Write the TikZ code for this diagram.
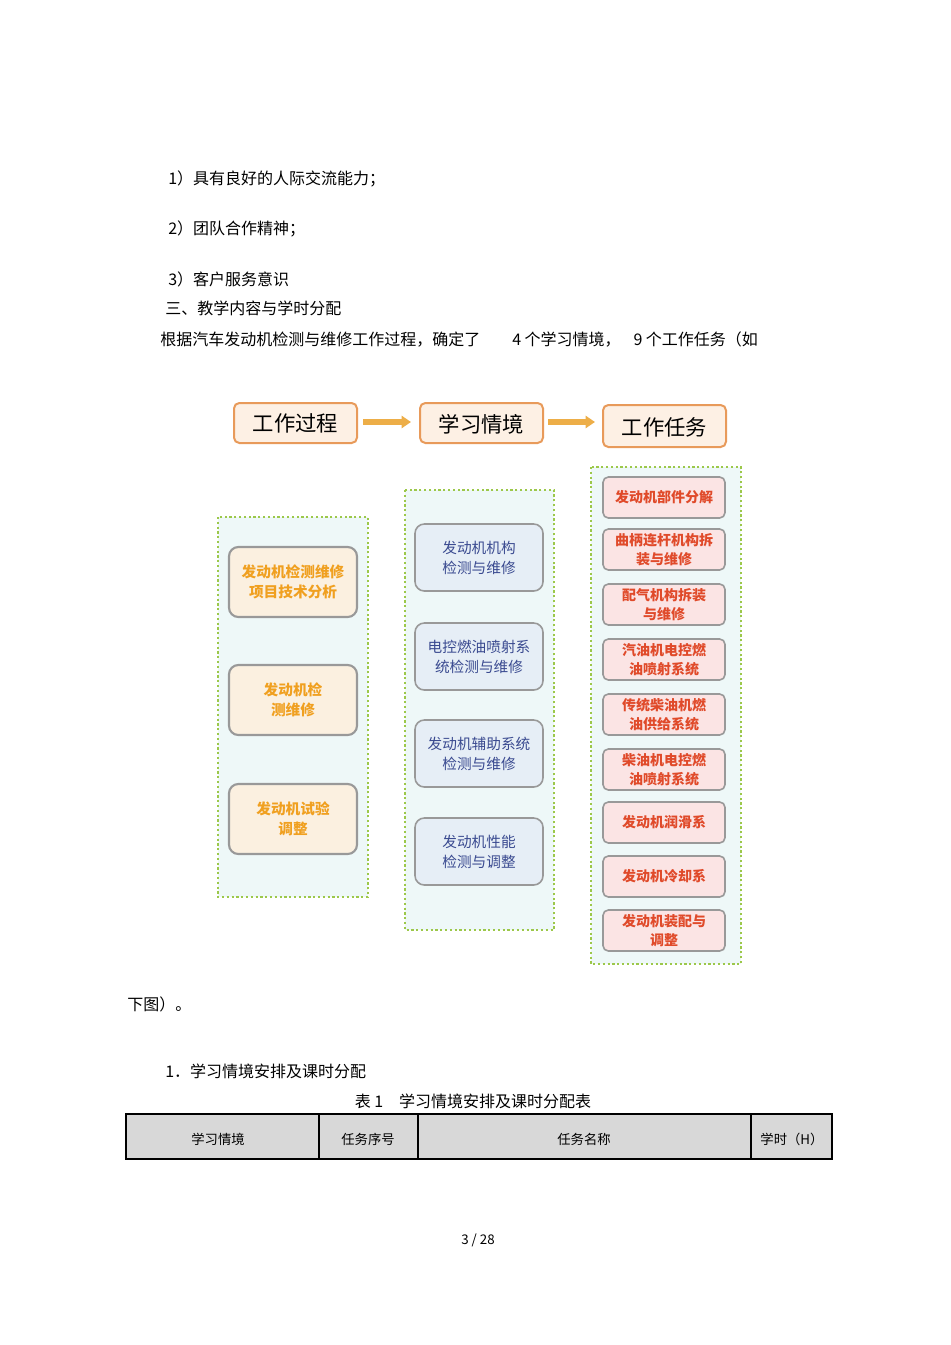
\documentclass[tikz,border=0pt]{standalone}
\usepackage{fontspec}
\setmainfont{Noto Sans CJK SC}
\usetikzlibrary{arrows.meta}
\definecolor{obord}{HTML}{E89A5A}\definecolor{ofill}{HTML}{FDF0E4}
\definecolor{gdot}{HTML}{9CC84A}\definecolor{cfill}{HTML}{EEF8F8}
\definecolor{lfill}{HTML}{FBF0E0}\definecolor{ltext}{HTML}{F0A020}
\definecolor{mfill}{HTML}{E6EEF6}\definecolor{mtext}{HTML}{3A4A90}
\definecolor{rfill}{HTML}{FBE4E4}\definecolor{rtext}{HTML}{E04A2A}
\definecolor{tfill}{HTML}{D8D8D8}
\tikzset{
 head/.style={draw=obord,fill=ofill,line width=1.5pt,rounded corners=4pt},
 cont/.style={draw=gdot,fill=cfill,line width=1.6pt,dotted},
 lbox/.style={draw=gray!80,fill=lfill,line width=1.6pt,rounded corners=7pt},
 mbox/.style={draw=gray!80,fill=mfill,line width=1.2pt,rounded corners=7pt},
 rbox/.style={draw=gray!80,fill=rfill,line width=1.2pt,rounded corners=4pt},
 harrow/.style={-{Triangle[length=7pt,width=9pt]},line width=4pt,draw=obord!80!yellow},
 txt/.style={anchor=west,inner sep=0pt,font=\fontsize{12}{14}\selectfont},
}
\begin{document}
\begin{tikzpicture}[x=0.75pt,y=-0.75pt]
\useasboundingbox (0,0) rectangle (950,1345);
\node[txt] (t1) at (168,179) {1）具有良好的人际交流能力；};
\node[txt] (t2) at (168,229) {2）团队合作精神；};
\node[txt] (t3) at (168,279) {3）客户服务意识};
\node[txt] (t4) at (165,308) {三、教学内容与学时分配};
\node[txt] (t5) at (160,340) {根据汽车发动机检测与维修工作过程，确定了\hspace{2em}4 个学习情境，\hspace{0.8em}9 个工作任务（如};
% headers
\draw[head] (234,403) rectangle (357,443); \node (h1) at (295.5,423) {\fontsize{16}{18}\selectfont 工作过程};
\draw[head] (420,403) rectangle (543,443); \node (h2) at (481.5,424) {\fontsize{16}{18}\selectfont 学习情境};
\draw[head] (603,405) rectangle (726,447); \node (h3) at (664.5,427) {\fontsize{16}{18}\selectfont 工作任务};
\coordinate (a1) at (363,422);\coordinate (a2) at (411,422);
\coordinate (b1) at (548,422);\coordinate (b2) at (595,422);
\draw[harrow] (a1)--(a2); \draw[harrow] (b1)--(b2);
% containers
\draw[cont] (218,517) rectangle (368,897);
\draw[cont] (405,490) rectangle (554,930);
\draw[cont] (591,467) rectangle (741,964);
% left
\foreach \y/\t in {547/{发动机检测维修\\项目技术分析},665/{发动机检\\测维修},784/{发动机试验\\调整}}{
 \draw[lbox] (229,\y) rectangle (357,\y+70);
 \node[align=center,text=ltext,font=\fontsize{11}{15}\selectfont\bfseries] at (293,\y+35) {\t};}
% middle
\foreach \y/\t in {524/{发动机机构\\检测与维修},623/{电控燃油喷射系\\统检测与维修},720/{发动机辅助系统\\检测与维修},818/{发动机性能\\检测与调整}}{
 \draw[mbox] (415,\y) rectangle (543,\y+67);
 \node[align=center,text=mtext,font=\fontsize{11}{15}\selectfont] at (479,\y+34) {\t};}
% right
\foreach \y/\t in {477/{发动机部件分解},529/{曲柄连杆机构拆\\装与维修},584/{配气机构拆装\\与维修},639/{汽油机电控燃\\油喷射系统},694/{传统柴油机燃\\油供给系统},749/{柴油机电控燃\\油喷射系统},802/{发动机润滑系},856/{发动机冷却系},910/{发动机装配与\\调整}}{
 \draw[rbox] (603,\y) rectangle (725,\y+41);
 \node[align=center,text=rtext,font=\fontsize{10.5}{14}\selectfont\bfseries] at (664,\y+20.5) {\t};}
\node[txt] (t6) at (127,1004) {下图）。};
\node[txt] (t7) at (165,1071) {1．学习情境安排及课时分配};
\node[inner sep=0pt,font=\fontsize{12}{14}\selectfont] (t8) at (473,1101) {表 1\hspace{1em}学习情境安排及课时分配表};
\draw[fill=tfill,line width=0.9pt] (126,1114) rectangle (832,1159);
\foreach \x in {319,418,751} \draw[line width=0.9pt] (\x,1114)--(\x,1159);
\foreach \x/\t in {218/学习情境,368/任务序号,584/任务名称,792/学时（H）}
 \node[font=\fontsize{10}{12}\selectfont] at (\x,1139) {\t};
\node[font=\fontsize{10}{12}\selectfont] (pg) at (478,1240) {3 / 28};
\end{tikzpicture}
\end{document}
